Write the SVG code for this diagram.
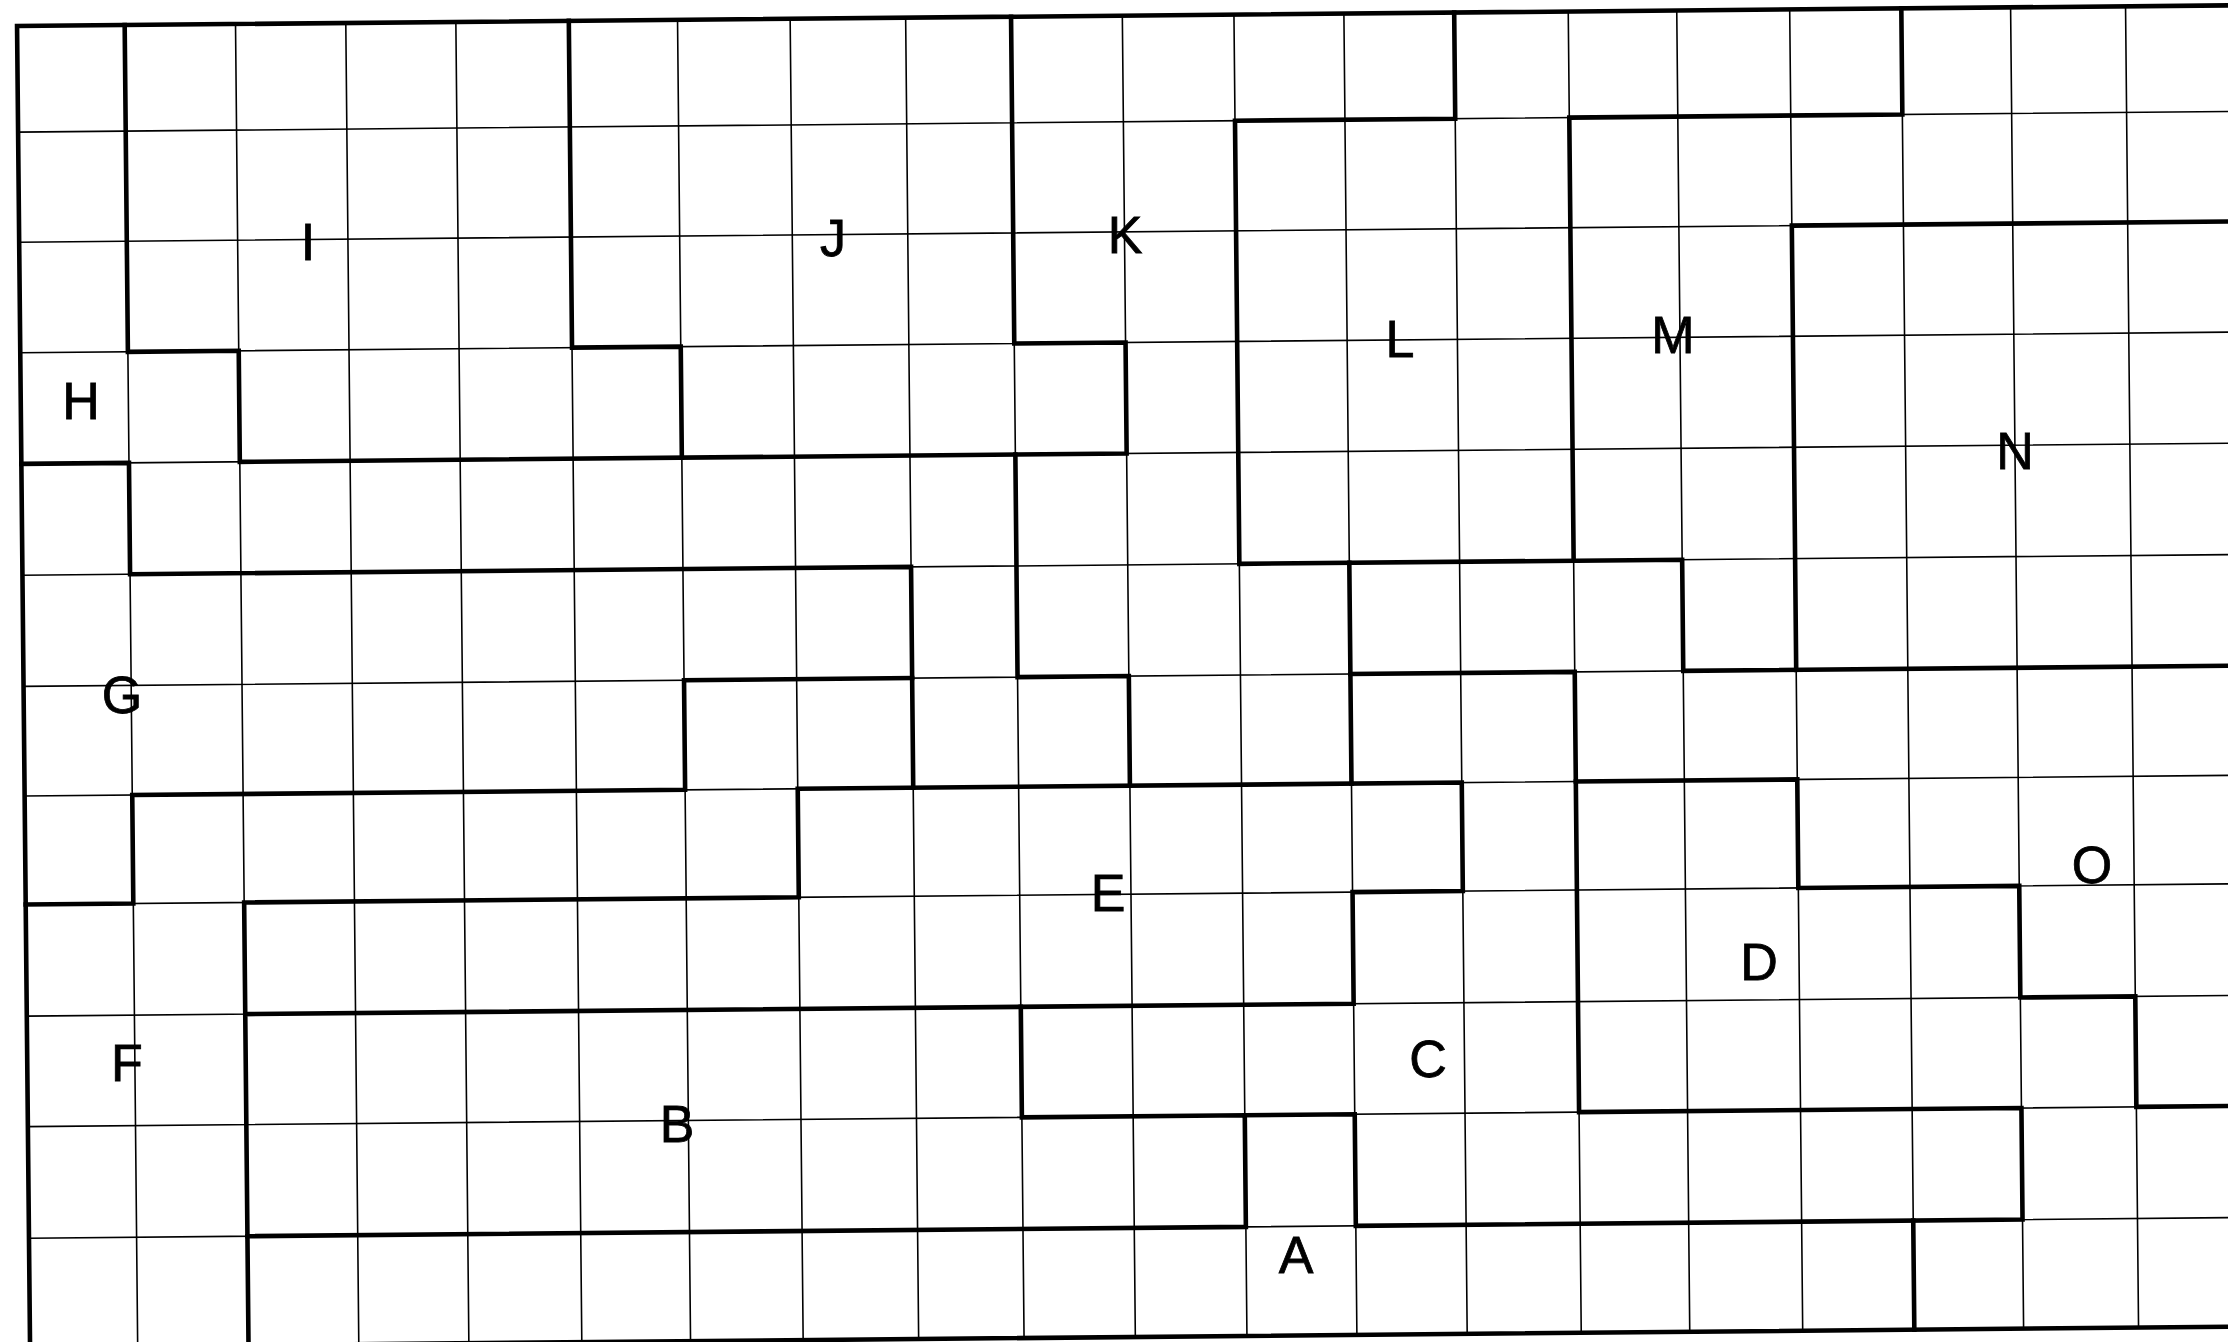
<svg xmlns="http://www.w3.org/2000/svg" width="2228" height="1342" viewBox="0 0 2228 1342">
<style>
.thin{fill:none;stroke:#000;stroke-width:1.6;vector-effect:non-scaling-stroke}
.thick{fill:none;stroke:#000;stroke-width:4.6;stroke-linejoin:miter;stroke-linecap:square;vector-effect:non-scaling-stroke}
.lbl{font-family:"Liberation Sans",Arial,sans-serif;font-size:52px;fill:#000;stroke:#000;stroke-width:0.8;text-anchor:middle}
</style>
<rect width="2228" height="1342" fill="#fff"/>
<g id="grid" transform="matrix(110.95 -1.039 1.083 110.06 16.5 26.6)">
<path class="thin" d="M0.975 0V12 M1.974 0V12 M2.968 0V12 M3.960 0V12 M4.978 0V12 M5.958 0V12 M6.973 0V12 M8.014 0V12 M8.964 0V12 M9.967 0V12 M10.973 0V12 M11.964 0V12 M12.958 0V12 M13.986 0V12 M14.964 0V12 M15.982 0V12 M16.988 0V12 M17.973 0V12 M19.009 0V12"/>
<path class="thin" d="M0 0.959H20.3 M0 1.959H20.3 M0 2.964H20.3 M0 3.973H20.3 M0 4.985H20.3 M0 5.995H20.3 M0 6.991H20.3 M0 7.977H20.3 M0 8.991H20.3 M0 9.995H20.3 M0 11.009H20.3"/>
<g id="connectors">
<path class="thick" d="M20.3 -0.005H0.005V12H20.3"/>
<path class="thick" d="M0.975 -0.005V2.964H1.974V3.973H9.967V2.964H8.964V-0.005"/>
<path class="thick" d="M4.978 -0.005V2.964H5.958V3.973"/>
<path class="thick" d="M0.005 3.973H0.975V4.985H8.014V6.991"/>
<path class="thick" d="M0.005 7.977H0.975V6.991H5.958V5.995H8.014"/>
<path class="thick" d="M1.974 12V7.977H6.973V6.991H12.958V7.977H11.964V8.991H1.974"/>
<path class="thick" d="M8.964 8.991V9.995H10.973V11.009H1.974"/>
<path class="thick" d="M10.973 9.995H11.964V11.009H17.973V9.995H13.986V5.995H11.964"/>
<path class="thick" d="M11.964 4.985V6.991"/>
<path class="thick" d="M16.988 11.009V12"/>
<path class="thick" d="M12.958 -0.005V0.959H10.973V4.985H14.964V5.995H20.3"/>
<path class="thick" d="M13.986 4.985V0.959H16.988V-0.005"/>
<path class="thick" d="M15.982 5.995V1.959H20.3"/>
<path class="thick" d="M8.964 3.973V5.995H9.967V6.991"/>
<path class="thick" d="M13.986 6.991H15.982V7.977H17.973V8.991H19.009V9.995H20.3"/>
</g>
</g>
<g id="region-H"><text class="lbl" x="81" y="419">H</text></g>
<g id="region-I"><text class="lbl" x="308" y="260">I</text></g>
<g id="region-J"><text class="lbl" x="833" y="256">J</text></g>
<g id="region-K"><text class="lbl" x="1125" y="253">K</text></g>
<g id="region-L"><text class="lbl" x="1400" y="357">L</text></g>
<g id="region-M"><text class="lbl" x="1673" y="353">M</text></g>
<g id="region-N"><text class="lbl" x="2015" y="469">N</text></g>
<g id="region-O"><text class="lbl" x="2092" y="883">O</text></g>
<g id="region-D"><text class="lbl" x="1759" y="980">D</text></g>
<g id="region-C"><text class="lbl" x="1428" y="1077">C</text></g>
<g id="region-A"><text class="lbl" x="1296" y="1273">A</text></g>
<g id="region-E"><text class="lbl" x="1108" y="911">E</text></g>
<g id="region-B"><text class="lbl" x="677" y="1142">B</text></g>
<g id="region-F"><text class="lbl" x="127" y="1081">F</text></g>
<g id="region-G"><text class="lbl" x="122" y="713">G</text></g>
</svg>
